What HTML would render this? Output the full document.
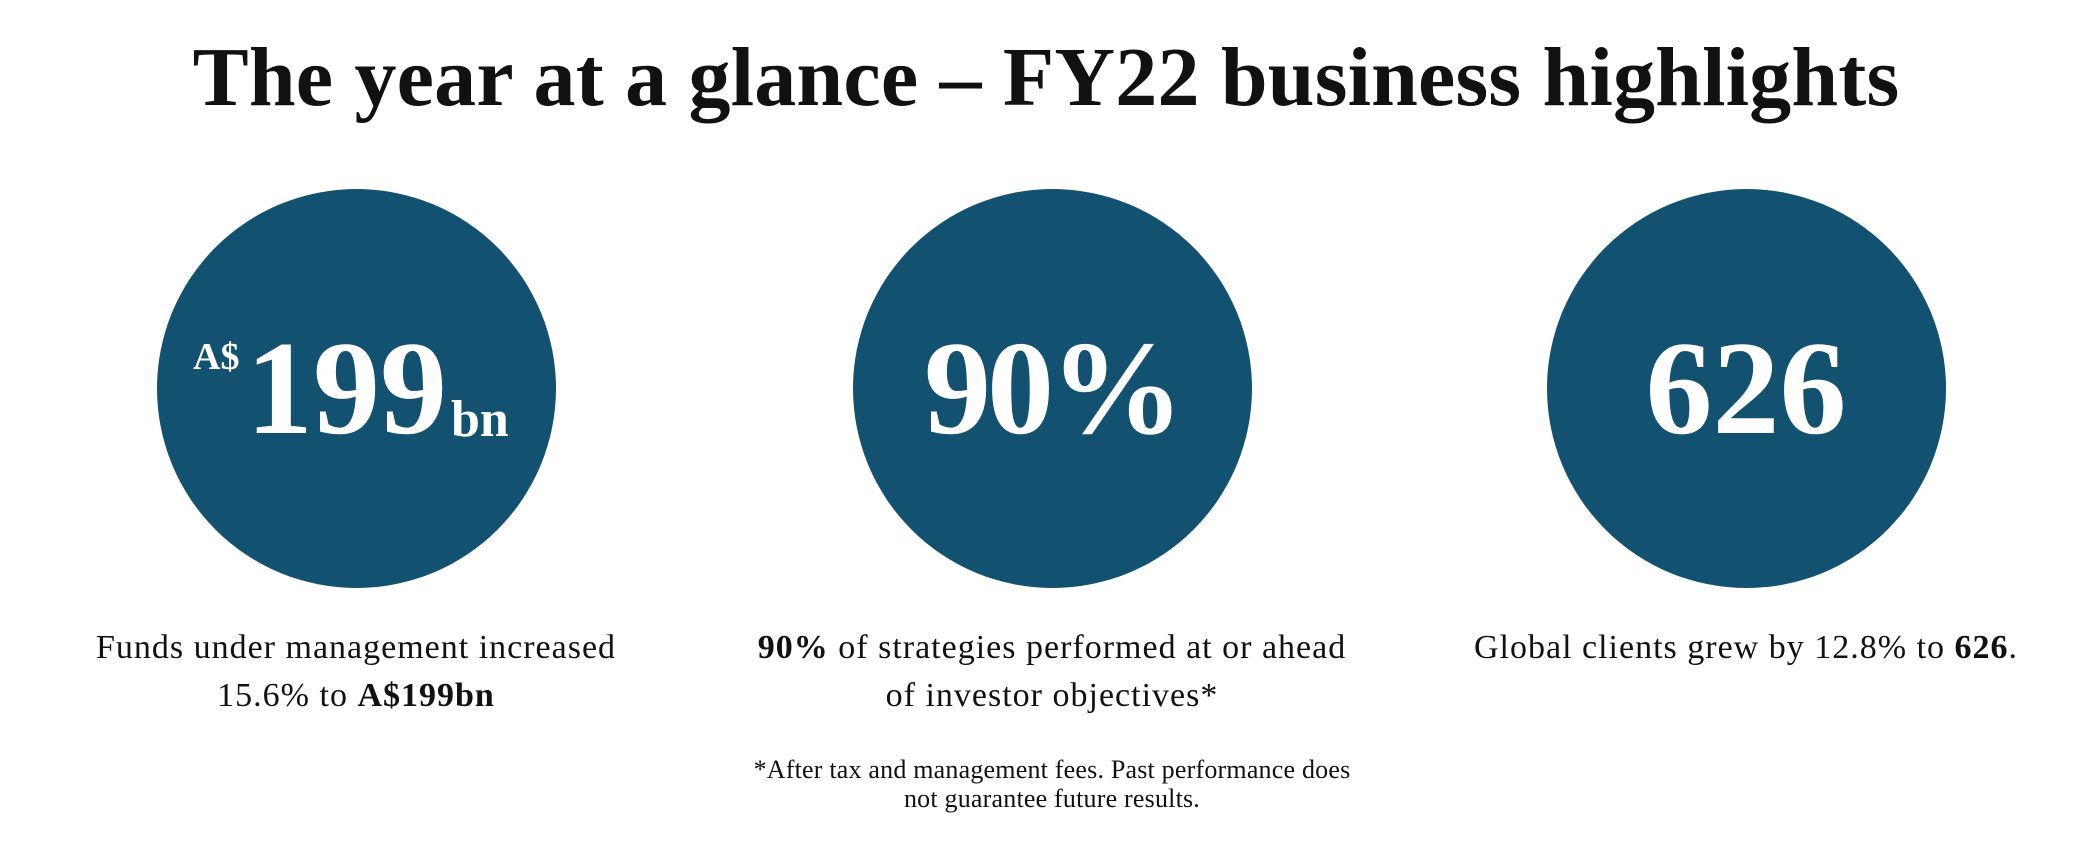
<!DOCTYPE html>
<html><head><style>
body{margin:0;width:2092px;height:854px;background:#fff;position:relative;overflow:hidden;font-family:"Liberation Serif","DejaVu Serif",serif;color:#111;}
.t{position:absolute;left:0;width:2092px;top:28px;text-align:center;font-weight:bold;font-size:84px;line-height:100px;letter-spacing:0.2px;}
.c{position:absolute;top:189px;width:399px;height:399px;border-radius:50%;background:#12516f;}
.cap{position:absolute;top:624px;width:800px;text-align:center;font-size:34px;line-height:48px;letter-spacing:1px;}
.fn{position:absolute;top:755px;left:652px;width:800px;text-align:center;font-size:26px;line-height:29px;letter-spacing:0.2px;}
</style></head><body>
<div class="t">The year at a glance – FY22 business highlights</div>
<div class="c" style="left:157px"></div>
<div class="c" style="left:853px"></div>
<div class="c" style="left:1547px"></div>
<div style="position:absolute;left:193px;top:335px;color:#fff;font-weight:bold;font-size:38px;">A$</div>
<div style="position:absolute;left:246px;top:318px;color:#fff;font-weight:bold;font-size:134px;line-height:140px;">199</div>
<div style="position:absolute;left:451px;top:390px;color:#fff;font-weight:bold;font-size:52px;">bn</div>
<div style="position:absolute;left:852px;width:400px;text-align:center;top:318px;color:#fff;font-weight:bold;font-size:134px;line-height:140px;letter-spacing:-4px;">90%</div>
<div style="position:absolute;left:1546px;width:400px;text-align:center;top:318px;color:#fff;font-weight:bold;font-size:134px;line-height:140px;">626</div>
<div class="cap" style="left:-44px">Funds under management increased<br>15.6% to <b>A$199bn</b></div>
<div class="cap" style="left:652px"><b>90%</b> of strategies performed at or ahead<br>of investor objectives*</div>
<div class="cap" style="left:1346px">Global clients grew by 12.8% to <b>626</b>.</div>
<div class="fn">*After tax and management fees. Past performance does<br>not guarantee future results.</div>
</body></html>
